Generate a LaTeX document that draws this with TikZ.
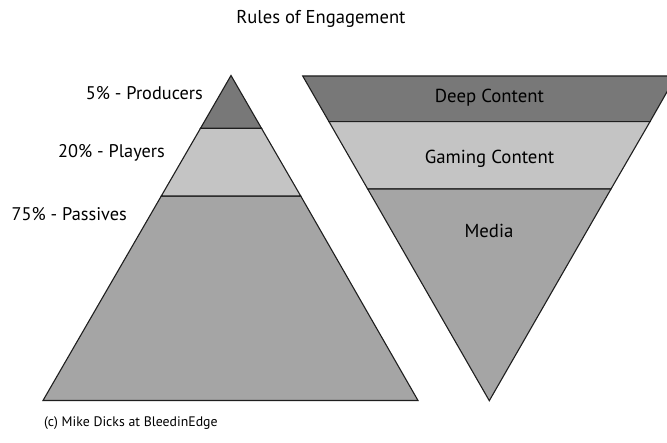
\documentclass[tikz,border=0pt]{standalone}
\usepackage{fontspec}
\setmainfont{PT Sans}
\definecolor{darkband}{HTML}{787878}
\definecolor{lightband}{HTML}{C4C4C4}
\definecolor{midband}{HTML}{A5A5A5}
\definecolor{edge}{HTML}{1E1E1E}
\begin{document}
\begin{tikzpicture}[x=1pt,y=-1pt,
  band/.style={draw=edge,line width=1.1pt,line join=miter},
  lbl/.style={inner sep=0pt,font=\fontsize{18.3}{20}\selectfont,text=black},
  rlbl/.style={inner sep=0pt,font=\fontsize{18.8}{20}\selectfont,text=black}]
\useasboundingbox (0,0) rectangle (667,443);
\clip (0,0) rectangle (667,443);
\fill[white] (0,0) rectangle (667,443);
% left pyramid
\coordinate (apex) at (231,75.5);
\coordinate (bl) at (43,400.5);
\coordinate (br) at (418,400.5);
\filldraw[band,fill=midband] (161.3,196) -- (300.7,196) -- (br) -- (bl) -- cycle;
\filldraw[band,fill=lightband] (200.5,128.3) -- (261.5,128.3) -- (300.7,196) -- (161.3,196) -- cycle;
\filldraw[band,fill=darkband] (apex) -- (261.5,128.3) -- (200.5,128.3) -- cycle;
% right inverted pyramid
\coordinate (tl) at (302.7,76);
\coordinate (tr) at (676,76);
\coordinate (bot) at (489.3,400.7);
\filldraw[band,fill=darkband] (tl) -- (tr) -- (650,121.7) -- (329,121.7) -- cycle;
\filldraw[band,fill=lightband] (329,121.7) -- (650,121.7) -- (611,189) -- (367.7,189) -- cycle;
\filldraw[band,fill=midband] (367.7,189) -- (611,189) -- (bot) -- cycle;
% texts
\node[inner sep=0pt,font=\fontsize{18.6}{20}\selectfont,anchor=base] (title) at (321,24) {Rules of Engagement};
\node[lbl,anchor=base east] (prod) at (203,100) {5\% - Producers};
\node[lbl,anchor=base east] (play) at (165,158) {20\% - Players};
\node[lbl,anchor=base east] (pass) at (127,221) {75\% - Passives};
\node[rlbl,anchor=base] (deep) at (489.5,103) {Deep Content};
\node[rlbl,anchor=base] (gaming) at (489.5,164) {Gaming Content};
\node[rlbl,anchor=base] (media) at (489,238) {Media};
\node[inner sep=0pt,font=\fontsize{13.8}{15}\selectfont,anchor=base west] (copy) at (44,427) {(c) Mike Dicks at BleedinEdge};
\end{tikzpicture}
\end{document}
